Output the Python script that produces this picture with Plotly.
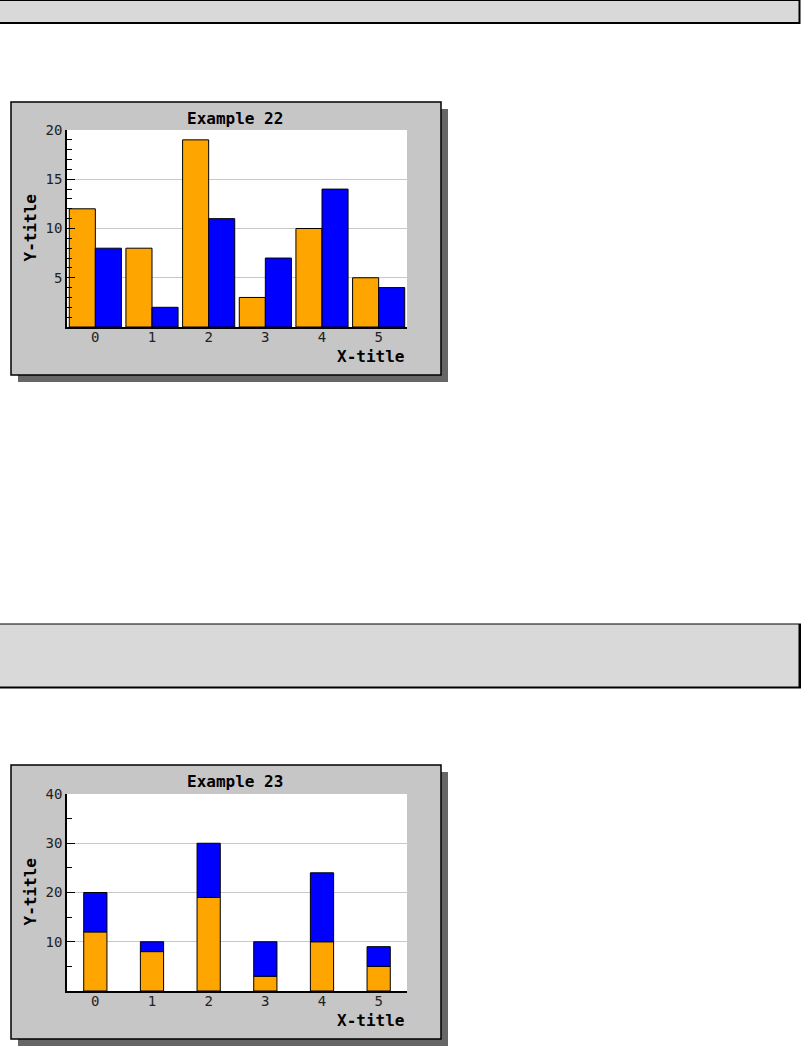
import plotly.graph_objects as go

# Series values shared by both examples
categories = [0, 1, 2, 3, 4, 5]
tick_labels = ["0", "1", "2", "3", "4", "5"]
orange_values = [12, 8, 19, 3, 10, 5]
blue_values = [8, 2, 11, 7, 14, 4]

y_ticks_22 = [5, 10, 15, 20]
y_ticks_23 = [10, 20, 30, 40]

W, H = 801, 1047
ORANGE = "#FFA500"
BLUE = "#0000FF"
MONO = "DejaVu Sans Mono"


def fx(x):
    return x / W


def fy(y):
    return 1 - y / H


def rect(x0, y0, x1, y1, fill, line_color=None, line_width=0):
    return dict(
        type="rect", xref="paper", yref="paper", layer="below",
        x0=fx(x0), x1=fx(x1), y0=fy(y1), y1=fy(y0),
        fillcolor=fill,
        line=dict(color=line_color or fill, width=line_width),
    )


fig = go.Figure()

# Example 22: grouped bars
bar_w = 0.46
fig.add_trace(go.Bar(
    x=categories, y=orange_values, width=bar_w, offset=-bar_w,
    marker=dict(color=ORANGE, line=dict(color="black", width=1)),
    xaxis="x", yaxis="y", showlegend=False,
))
fig.add_trace(go.Bar(
    x=categories, y=blue_values, width=bar_w, offset=0,
    marker=dict(color=BLUE, line=dict(color="black", width=1)),
    xaxis="x", yaxis="y", showlegend=False,
))

# Example 23: stacked bars
stack_w = 0.41
fig.add_trace(go.Bar(
    x=categories, y=orange_values, width=stack_w, offset=-stack_w / 2,
    marker=dict(color=ORANGE, line=dict(color="black", width=1)),
    xaxis="x2", yaxis="y2", showlegend=False,
))
fig.add_trace(go.Bar(
    x=categories, y=blue_values, base=orange_values,
    width=stack_w, offset=-stack_w / 2,
    marker=dict(color=BLUE, line=dict(color="black", width=1)),
    xaxis="x2", yaxis="y2", showlegend=False,
))

# Plot-area pixel boxes (left, top, right, bottom)
area_22 = (67, 130, 407, 327)
area_23 = (67, 794, 407, 991)


def x_axis(area, anchor):
    return dict(
        domain=[fx(area[0]), fx(area[2])], anchor=anchor,
        range=[-0.5, 5.5], tickmode="array",
        tickvals=categories, ticktext=tick_labels,
        showline=True, linecolor="black", linewidth=1.5,
        ticks="", ticklabelstandoff=-4,
        showgrid=False, zeroline=False, automargin=False,
        tickfont=dict(family=MONO, size=14, color="#222222"),
        fixedrange=True,
    )


def y_axis(area, anchor, top, ticks, minor_step):
    return dict(
        domain=[fy(area[3]), fy(area[1])], anchor=anchor,
        range=[0, top], tickmode="array", tickvals=ticks,
        ticks="inside", ticklen=8, tickwidth=1, tickcolor="black",
        minor=dict(dtick=minor_step, tick0=0, ticks="inside", ticklen=5,
                   tickwidth=1, tickcolor="black", showgrid=False),
        showgrid=True, gridcolor="#c8c8c8", gridwidth=1,
        showline=True, linecolor="black", linewidth=1.5,
        zeroline=False, automargin=False,
        tickfont=dict(family=MONO, size=14, color="#222222"),
        fixedrange=True,
    )


shapes = [
    # header strips
    rect(-2, 0, 800.5, 24, "black"),
    rect(-2, 1, 798.5, 22, "#d9d9d9"),
    rect(-2, 623.5, 801, 688.5, "black"),
    rect(-2, 624.5, 798.5, 686.5, "#d9d9d9"),
]

for box, area in (((11, 102, 441, 375), area_22), ((11, 765, 441, 1039), area_23)):
    bx0, by0, bx1, by1 = box
    shapes.append(rect(bx0 + 7, by0 + 7, bx1 + 7, by1 + 7, "#666666"))
    shapes.append(rect(bx0, by0, bx1, by1, "#c6c6c6", "black", 1.5))
    shapes.append(rect(*area, "white"))

annotations = []
for title, area, title_y in (("Example 22", area_22, 118), ("Example 23", area_23, 781)):
    cx = (area[0] + area[2]) / 2
    cy = (area[1] + area[3]) / 2
    annotations.append(dict(
        text="<b>%s</b>" % title, xref="paper", yref="paper",
        x=fx(cx - 2), y=fy(title_y), xanchor="center", yanchor="middle",
        showarrow=False, font=dict(family=MONO, size=16, color="black"),
    ))
    annotations.append(dict(
        text="<b>X-title</b>", xref="paper", yref="paper",
        x=fx(area[2] - 1), y=fy(area[3] + 29), xanchor="right", yanchor="middle",
        showarrow=False, font=dict(family=MONO, size=16, color="black"),
    ))
    annotations.append(dict(
        text="<b>Y-title</b>", xref="paper", yref="paper",
        x=fx(30), y=fy(cy), xanchor="center", yanchor="middle", textangle=-90,
        showarrow=False, font=dict(family=MONO, size=16, color="black"),
    ))

fig.update_layout(
    width=W, height=H,
    margin=dict(l=0, r=0, t=0, b=0, pad=0, autoexpand=False),
    paper_bgcolor="white", plot_bgcolor="rgba(0,0,0,0)",
    barmode="overlay",
    xaxis=x_axis(area_22, "y"),
    yaxis=y_axis(area_22, "x", 20, y_ticks_22, 1),
    xaxis2=x_axis(area_23, "y2"),
    yaxis2=y_axis(area_23, "x2", 40, y_ticks_23, 5),
    shapes=shapes,
    annotations=annotations,
)

# Page body without default margin so the figure sits at the window origin
fig.write_html(
    "out.html",
    config=dict(displayModeBar=False),
    post_script="document.body.style.margin='0';",
)
